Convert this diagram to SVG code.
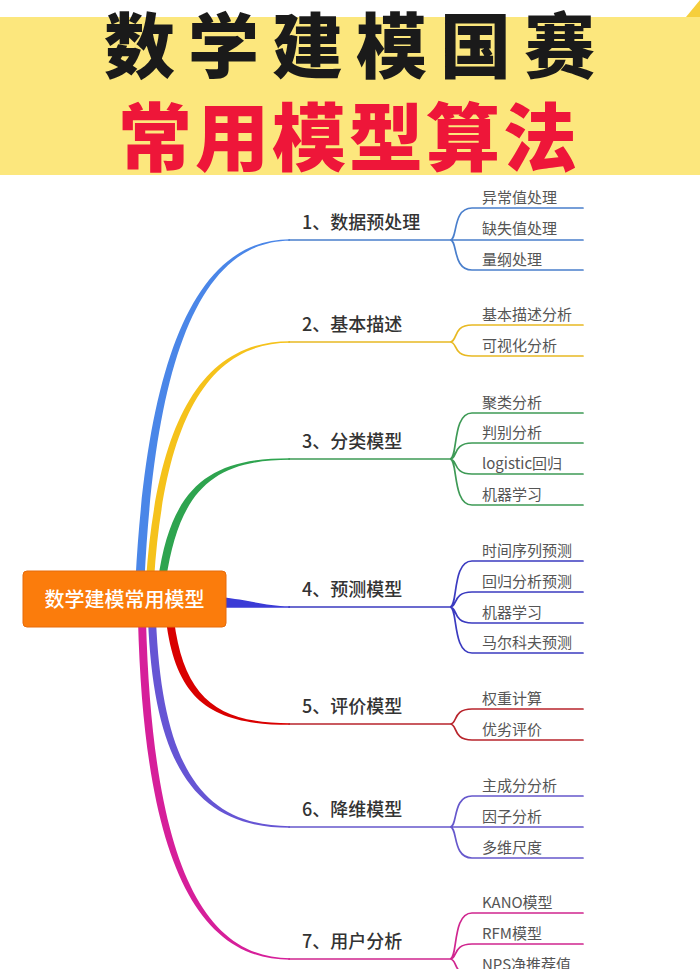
<svg xmlns="http://www.w3.org/2000/svg" width="700" height="969" viewBox="0 0 700 969">
<style>
.title{font-family:"Noto Sans CJK SC","Noto Sans",sans-serif;font-weight:900}
.main{font-family:"Noto Sans CJK SC","Noto Sans",sans-serif;font-size:18px;font-weight:500;fill:#333}
.sub{font-family:"Noto Sans CJK SC","Noto Sans",sans-serif;font-size:15px;fill:#555}
.root{font-family:"Noto Sans CJK SC","Noto Sans",sans-serif;font-size:20px;font-weight:500;fill:#fff}
.ln{fill:none;stroke-width:1.7;stroke-linecap:round}
</style>
<rect x="0" y="0" width="700" height="969" fill="#ffffff"/>
<g id="header">
<rect x="0" y="17" width="700" height="158" fill="#fce77d"/>
<polygon points="686,17 700,0 700,17" fill="#f6cf3c"/>
<text class="title" x="104" y="72" font-size="71" letter-spacing="13" fill="#1a1a1a">数学建模国赛</text>
<text class="title" x="118" y="165" font-size="74" letter-spacing="3" fill="#ee1639">常用模型算法</text>
</g>
<g id="connectors">
<path d="M135.5,580 C146,378 188,239.2 290,239.2 L290,240.8 C192,240.8 154,382 144.5,580 Z" fill="#4a86e8"/>
<path d="M146,580 C156.5,428 198,341.2 290,341.2 L290,342.8 C202,342.8 163.5,432 154,580 Z" fill="#f5c21b"/>
<path d="M158,580 C171,488 208,458.2 290,458.2 L290,459.8 C212,459.8 179,492 166,580 Z" fill="#2ea44f"/>
<path d="M220,597 C250,600 265,606.2 290,606.2 L290,607.8 L220,607.8 Z" fill="#3b3bd6"/>
<path d="M166,620 C176,702 213,724.8 290,724.8 L290,723.2 C217,723.2 184,698 174,620 Z" fill="#d90000"/>
<path d="M148,620 C154,762 193,827.8 290,827.8 L290,826.2 C197,826.2 162,758 156,620 Z" fill="#6655d4"/>
<path d="M138,620 C144,852 193,959.8 290,959.8 L290,958.2 C197,958.2 152,848 146,620 Z" fill="#d61f9a"/>
<path class="ln" stroke="#4a7fcc" d="M289,240 L450,240 M450,240 C458,240 452,208 472,208 L583,208 M450,240 L583,240 M450,240 C458,240 452,270 472,270 L583,270"/>
<path class="ln" stroke="#e8b923" d="M289,342 L450,342 M450,342 C458,342 452,325 472,325 L583,325 M450,342 C458,342 452,356 472,356 L583,356"/>
<path class="ln" stroke="#3e9a56" d="M289,459 L450,459 M450,459 C458,459 452,413 472,413 L583,413 M450,459 C458,459 452,443 472,443 L583,443 M450,459 C458,459 452,474 472,474 L583,474 M450,459 C458,459 452,505 472,505 L583,505"/>
<path class="ln" stroke="#3b3bc0" d="M289,607 L450,607 M450,607 C458,607 452,561 472,561 L583,561 M450,607 C458,607 452,592 472,592 L583,592 M450,607 C458,607 452,623 472,623 L583,623 M450,607 C458,607 452,653 472,653 L583,653"/>
<path class="ln" stroke="#b8242c" d="M289,724 L450,724 M450,724 C458,724 452,709 472,709 L583,709 M450,724 C458,724 452,740 472,740 L583,740"/>
<path class="ln" stroke="#6658cc" d="M289,827 L450,827 M450,827 C458,827 452,796 472,796 L583,796 M450,827 L583,827 M450,827 C458,827 452,858 472,858 L583,858"/>
<path class="ln" stroke="#d0268f" d="M289,959 L450,959 M450,959 C458,959 452,913 472,913 L583,913 M450,959 C458,959 452,944 472,944 L583,944 M450,959 C458,959 452,975 472,975 L583,975"/>
</g>
<g id="root">
<rect x="23" y="571" width="203" height="56" rx="4" fill="#fb7c0c" stroke="#e66a0a" stroke-width="1"/>
<text class="root" x="124.5" y="607" text-anchor="middle">数学建模常用模型</text>
</g>
<g id="n1"><text class="main" x="302" y="229">1、数据预处理</text></g>
<g id="n1a"><text class="sub" x="482" y="203">异常值处理</text></g>
<g id="n1b"><text class="sub" x="482" y="234">缺失值处理</text></g>
<g id="n1c"><text class="sub" x="482" y="265">量纲处理</text></g>
<g id="n2"><text class="main" x="302" y="331">2、基本描述</text></g>
<g id="n2a"><text class="sub" x="482" y="320">基本描述分析</text></g>
<g id="n2b"><text class="sub" x="482" y="351">可视化分析</text></g>
<g id="n3"><text class="main" x="302" y="448">3、分类模型</text></g>
<g id="n3a"><text class="sub" x="482" y="408">聚类分析</text></g>
<g id="n3b"><text class="sub" x="482" y="438">判别分析</text></g>
<g id="n3c"><text class="sub" x="482" y="469">logistic回归</text></g>
<g id="n3d"><text class="sub" x="482" y="500">机器学习</text></g>
<g id="n4"><text class="main" x="302" y="596">4、预测模型</text></g>
<g id="n4a"><text class="sub" x="482" y="556">时间序列预测</text></g>
<g id="n4b"><text class="sub" x="482" y="587">回归分析预测</text></g>
<g id="n4c"><text class="sub" x="482" y="618">机器学习</text></g>
<g id="n4d"><text class="sub" x="482" y="648">马尔科夫预测</text></g>
<g id="n5"><text class="main" x="302" y="713">5、评价模型</text></g>
<g id="n5a"><text class="sub" x="482" y="704">权重计算</text></g>
<g id="n5b"><text class="sub" x="482" y="735">优劣评价</text></g>
<g id="n6"><text class="main" x="302" y="816">6、降维模型</text></g>
<g id="n6a"><text class="sub" x="482" y="791">主成分分析</text></g>
<g id="n6b"><text class="sub" x="482" y="822">因子分析</text></g>
<g id="n6c"><text class="sub" x="482" y="853">多维尺度</text></g>
<g id="n7"><text class="main" x="302" y="948">7、用户分析</text></g>
<g id="n7a"><text class="sub" x="482" y="908">KANO模型</text></g>
<g id="n7b"><text class="sub" x="482" y="939">RFM模型</text></g>
<g id="n7c"><text class="sub" x="482" y="970">NPS净推荐值</text></g>
</svg>
